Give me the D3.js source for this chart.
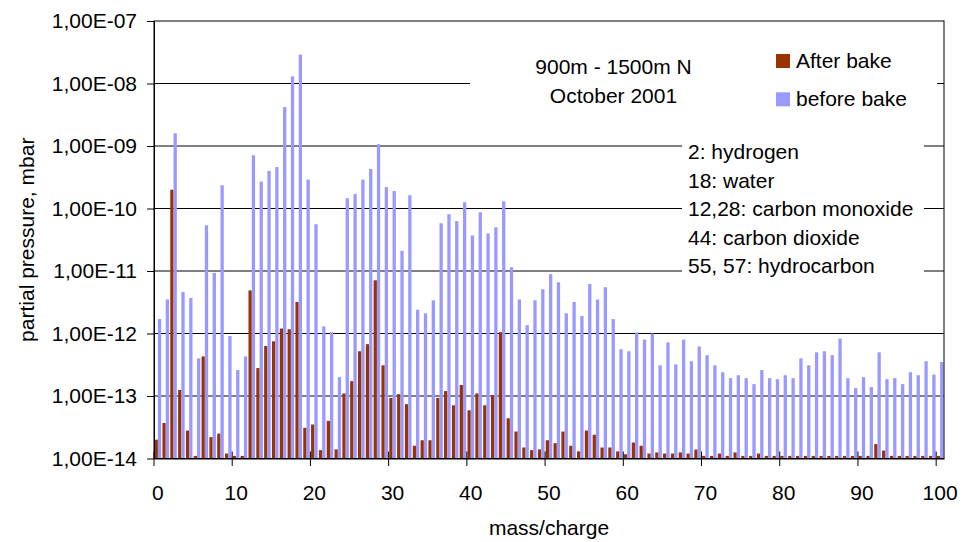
<!DOCTYPE html>
<html>
<head>
<meta charset="utf-8">
<script src="https://cdn.jsdelivr.net/npm/d3@7"></script>
<style>
  body { margin: 0; background: #fff; }
  svg { display: block; font-family: "Liberation Sans", Arial, sans-serif; }
</style>
</head>
<body>
<svg id="chart" width="976" height="542"></svg>
<script>
// mass/charge categories 0..100
const masses = d3.range(0, 101);

const afterBake = [
  2.0e-14, 3.7e-14, 2.0e-10, 1.25e-13, 2.8e-14, 1.1e-14, 4.3e-13, 2.2e-14, 2.5e-14, 1.2e-14,
  1.1e-14, 1.1e-14, 4.9e-12, 2.8e-13, 6.3e-13, 7.5e-13, 1.2e-12, 1.17e-12, 3.2e-12, 3.1e-14,
  3.5e-14, 1.36e-14, 4.0e-14, 1.4e-14, 1.1e-13, 1.73e-13, 5.2e-13, 6.75e-13, 7.1e-12, 3.1e-13,
  9.3e-14, 1.07e-13, 7.4e-14, 1.6e-14, 1.96e-14, 1.96e-14, 9.3e-14, 1.2e-13, 7.1e-14, 1.5e-13,
  5.9e-14, 1.1e-13, 7.1e-14, 1.03e-13, 1.05e-12, 4.4e-14, 2.7e-14, 1.5e-14, 1.36e-14, 1.4e-14,
  1.96e-14, 1.76e-14, 2.7e-14, 1.6e-14, 1.3e-14, 2.8e-14, 2.4e-14, 1.5e-14, 1.5e-14, 1.3e-14,
  1.17e-14, 1.8e-14, 1.6e-14, 1.2e-14, 1.25e-14, 1.2e-14, 1.2e-14, 1.25e-14, 1.2e-14, 1.39e-14,
  1.1e-14, 1.1e-14, 1.2e-14, 1.1e-14, 1.25e-14, 1.1e-14, 1.1e-14, 1.2e-14, 1.1e-14, 1.1e-14,
  1.1e-14, 1.1e-14, 1.1e-14, 1.1e-14, 1.1e-14, 1.1e-14, 1.1e-14, 1.1e-14, 1.1e-14, 1.1e-14,
  1.1e-14, 1.1e-14, 1.7e-14, 1.34e-14, 1.1e-14, 1.1e-14, 1.1e-14, 1.1e-14, 1.1e-14, 1.1e-14,
  1.1e-14
];

const beforeBake = [
  1.7e-12, 3.5e-12, 1.6e-9, 4.6e-12, 3.7e-12, 4.0e-13, 5.4e-11, 9.3e-12, 2.35e-10, 9.1e-13,
  2.6e-13, 4.3e-13, 7.1e-10, 2.7e-10, 4.0e-10, 4.6e-10, 4.2e-9, 1.3e-8, 2.9e-8, 2.9e-10,
  5.6e-11, 1.3e-12, 1.05e-12, 2.0e-13, 1.46e-10, 1.7e-10, 2.9e-10, 4.3e-10, 1.07e-9, 2.2e-10,
  1.9e-10, 2.1e-11, 1.63e-10, 2.4e-12, 2.1e-12, 3.4e-12, 5.8e-11, 8.1e-11, 6.3e-11, 1.26e-10,
  3.7e-11, 8.7e-11, 4.0e-11, 5.0e-11, 1.3e-10, 1.15e-11, 3.5e-12, 1.36e-12, 3.4e-12, 5.1e-12,
  8.9e-12, 6.6e-12, 2.1e-12, 3.2e-12, 1.9e-12, 6.2e-12, 3.5e-12, 5.5e-12, 1.7e-12, 5.6e-13,
  5.2e-13, 1.04e-12, 8.0e-13, 1.0e-12, 3.1e-13, 7.2e-13, 3.2e-13, 8.0e-13, 3.6e-13, 6.2e-13,
  4.5e-13, 3.1e-13, 2.4e-13, 1.93e-13, 2.15e-13, 1.93e-13, 1.55e-13, 2.6e-13, 1.93e-13, 1.86e-13,
  2.15e-13, 1.93e-13, 4.0e-13, 3.1e-13, 5.0e-13, 5.2e-13, 4.5e-13, 8.3e-13, 1.93e-13, 1.34e-13,
  2.0e-13, 1.39e-13, 5.0e-13, 1.86e-13, 1.93e-13, 1.55e-13, 2.4e-13, 2.15e-13, 3.6e-13, 2.2e-13,
  3.5e-13
];

const seriesNames = ["After bake", "before bake"];
const seriesColors = ["#993300", "#9999ff"];
const yTicks = [1e-14, 1e-13, 1e-12, 1e-11, 1e-10, 1e-9, 1e-8, 1e-7];
const xLabels = [0, 10, 20, 30, 40, 50, 60, 70, 80, 90, 100];
const titleLines = ["900m - 1500m N", "October 2001"];
const notes = ["2: hydrogen", "18: water", "12,28: carbon monoxide", "44: carbon dioxide", "55, 57: hydrocarbon"];

const plot = { left: 154, right: 944, top: 21, bottom: 458.5 };
const fontSize = 21;

const svg = d3.select("#chart");

const x = d3.scaleBand().domain(masses).range([plot.left, plot.right]).padding(0);
const xs = d3.scaleBand().domain(seriesNames).range([0, x.bandwidth()])
  .paddingInner(0).paddingOuter(0.19);
const y = d3.scaleLog().domain([1e-14, 1e-7]).range([plot.bottom, plot.top]);

// gridlines
svg.append("g")
  .selectAll("line")
  .data(yTicks.slice(1, -1))
  .join("line")
  .attr("x1", plot.left)
  .attr("x2", plot.right)
  .attr("y1", d => y(d))
  .attr("y2", d => y(d))
  .attr("stroke", "#000");

// bars
const rows = masses.map((m, i) => ({ m, values: [afterBake[i], beforeBake[i]] }));
seriesNames.forEach((name, s) => {
  svg.append("g")
    .attr("fill", seriesColors[s])
    .selectAll("rect")
    .data(rows)
    .join("rect")
    .attr("x", d => x(d.m) + xs(name))
    .attr("width", xs.bandwidth())
    .attr("y", d => y(d.values[s]))
    .attr("height", d => plot.bottom - y(d.values[s]));
});

// white boxes behind the texts (they hide the gridlines)
svg.append("rect").attr("x", 470).attr("y", 32).attr("width", 467).attr("height", 86).attr("fill", "#fff");
svg.append("rect").attr("x", 682).attr("y", 132).attr("width", 242).attr("height", 152).attr("fill", "#fff");

// plot frame
svg.append("rect")
  .attr("x", plot.left).attr("y", plot.top)
  .attr("width", plot.right - plot.left).attr("height", plot.bottom - plot.top)
  .attr("fill", "none").attr("stroke", "#000");

// y axis
const fmt = d => "1,00E-" + String(-Math.round(Math.log10(d))).padStart(2, "0");
const yAxis = svg.append("g")
  .attr("transform", `translate(${plot.left},0)`)
  .call(d3.axisLeft(y).tickValues(yTicks).tickFormat(fmt).tickSize(7).tickSizeOuter(0).tickPadding(10));
yAxis.attr("font-size", fontSize).attr("font-family", null);
yAxis.selectAll("text").attr("fill", "#000");

// x axis: labels centred on categories, ticks on category edges
const xAxis = svg.append("g")
  .attr("transform", `translate(0,${plot.bottom})`)
  .call(d3.axisBottom(x).tickValues(xLabels).tickSize(0).tickSizeOuter(0).tickPadding(27));
xAxis.attr("font-size", fontSize).attr("font-family", null);
xAxis.selectAll("text").attr("fill", "#000");

svg.append("g")
  .selectAll("line")
  .data(xLabels)
  .join("line")
  .attr("x1", d => x(d))
  .attr("x2", d => x(d))
  .attr("y1", plot.bottom - 7)
  .attr("y2", plot.bottom + 7.5)
  .attr("stroke", "#000");

// axis titles
svg.append("text")
  .attr("transform", `translate(34,${(plot.top + plot.bottom) / 2}) rotate(-90)`)
  .attr("text-anchor", "middle")
  .attr("font-size", fontSize)
  .text("partial pressure, mbar");

svg.append("text")
  .attr("x", (plot.left + plot.right) / 2)
  .attr("y", 535)
  .attr("text-anchor", "middle")
  .attr("font-size", fontSize)
  .text("mass/charge");

// chart title
svg.append("g")
  .selectAll("text")
  .data(titleLines)
  .join("text")
  .attr("x", 613.5)
  .attr("y", (d, i) => 74.3 + i * 29)
  .attr("text-anchor", "middle")
  .attr("font-size", fontSize)
  .text(d => d);

// legend
const legend = svg.append("g")
  .selectAll("g")
  .data(seriesNames)
  .join("g")
  .attr("transform", (d, i) => `translate(776,${54 + i * 38.3})`);
legend.append("rect")
  .attr("width", 14).attr("height", 14)
  .attr("fill", (d, i) => seriesColors[i]);
legend.append("text")
  .attr("x", 20).attr("y", 13.7)
  .attr("font-size", fontSize)
  .text(d => d);

// notes
svg.append("g")
  .selectAll("text")
  .data(notes)
  .join("text")
  .attr("x", 688)
  .attr("y", (d, i) => 159 + i * 28.5)
  .attr("font-size", fontSize)
  .text(d => d);
</script>
</body>
</html>
